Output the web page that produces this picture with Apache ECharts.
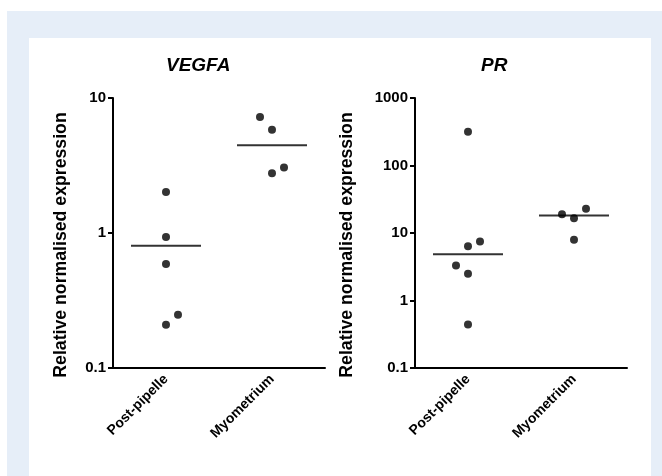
<!DOCTYPE html>
<html>
<head>
<meta charset="utf-8">
<script src="https://cdn.jsdelivr.net/npm/echarts@6/dist/echarts.min.js"></script>
<style>
  html, body { margin: 0; padding: 0; background: #fff; }
  #container { width: 662px; height: 476px; }
</style>
</head>
<body>
<div id="container"></div>
<script>
var dom = document.getElementById("container");
var myChart = echarts.init(dom);

// groups on the x axis
var groups = ['Post-pipelle', 'Myometrium'];

// VEGFA
var vegfaPost = [2.01, 0.934, 0.589, 0.248, 0.209];
var vegfaPostSide = [0, 0, 0, 1, 0];
var vegfaMyo = [7.23, 5.83, 2.77, 3.05];
var vegfaMyoSide = [-1, 0, 0, 1];
var vegfaMean = [0.806, 4.46];

// PR
var prPost = [315, 6.38, 7.48, 3.30, 2.48, 0.44];
var prPostSide = [0, 0, 1, -1, 0, 0];
var prMyo = [19.0, 16.6, 22.8, 7.92];
var prMyoSide = [-1, 0, 1, 0];
var prMean = [4.86, 18.2];

var font = 'Liberation Sans, Arial, sans-serif';
var ink = '#000';

function dots(vals, side, group) {
    return vals.map(function (v, i) {
        return { value: [group, v], symbolOffset: [side[i] * 12, 0] };
    });
}

function pointSeries(idx, post, postSide, myo, myoSide) {
    return {
        type: 'scatter',
        xAxisIndex: idx,
        yAxisIndex: idx,
        symbol: 'circle',
        symbolSize: 8,
        itemStyle: { color: ink },
        data: dots(post, postSide, groups[0]).concat(dots(myo, myoSide, groups[1]))
    };
}

function meanSeries(idx, means) {
    return {
        type: 'scatter',
        xAxisIndex: idx,
        yAxisIndex: idx,
        symbol: 'rect',
        symbolSize: [70, 2],
        itemStyle: { color: ink },
        data: means.map(function (m, i) { return [groups[i], m]; })
    };
}

function xAxis(idx) {
    return {
        type: 'category',
        gridIndex: idx,
        data: groups,
        axisLine: { lineStyle: { color: ink, width: 2 } },
        axisTick: { alignWithLabel: true, length: 5, lineStyle: { color: ink, width: 2 } },
        axisLabel: { rotate: 45, margin: 9, color: ink, fontFamily: font, fontWeight: 'bold', fontSize: 14 },
        splitLine: { show: false }
    };
}

function yAxis(idx, min, max, gap) {
    return {
        type: 'log',
        logBase: 10,
        gridIndex: idx,
        min: min,
        max: max,
        name: 'Relative normalised expression',
        nameLocation: 'middle',
        nameGap: gap,
        nameTextStyle: {
            color: ink, fontFamily: font, fontWeight: 'bold', fontSize: 17.7,
            padding: [0, 24, 0, 0]
        },
        axisLine: { show: true, lineStyle: { color: ink, width: 2 } },
        axisTick: { show: true, length: 5, lineStyle: { color: ink, width: 2 } },
        axisLabel: {
            margin: 7, color: ink, fontFamily: font, fontWeight: 'bold', fontSize: 15,
            formatter: function (v) { return String(+v.toPrecision(3)); }
        },
        splitLine: { show: false }
    };
}

option = {
    backgroundColor: '#fff',
    animation: false,
    graphic: [
        { type: 'rect', z: -10, shape: { x: 7, y: 11, width: 700, height: 500 }, style: { fill: '#e6eef8' } },
        { type: 'rect', z: -9, shape: { x: 29, y: 38, width: 622, height: 480 }, style: { fill: '#fff' } }
    ],
    title: [
        { text: 'VEGFA', left: 166, top: 56, padding: 0,
          textStyle: { fontFamily: font, fontWeight: 'bold', fontStyle: 'italic', fontSize: 19, color: ink } },
        { text: 'PR', left: 481, top: 56, padding: 0,
          textStyle: { fontFamily: font, fontWeight: 'bold', fontStyle: 'italic', fontSize: 19, color: ink } }
    ],
    grid: [
        { left: 113, top: 98, width: 212, height: 270 },
        { left: 415, top: 98, width: 212, height: 270 }
    ],
    xAxis: [xAxis(0), xAxis(1)],
    yAxis: [yAxis(0, 0.1, 10, 43), yAxis(1, 0.1, 1000, 59)],
    series: [
        pointSeries(0, vegfaPost, vegfaPostSide, vegfaMyo, vegfaMyoSide),
        meanSeries(0, vegfaMean),
        pointSeries(1, prPost, prPostSide, prMyo, prMyoSide),
        meanSeries(1, prMean)
    ]
};

if (option && typeof option === "object") {
    myChart.setOption(option, false);
}
</script>
</body>
</html>
